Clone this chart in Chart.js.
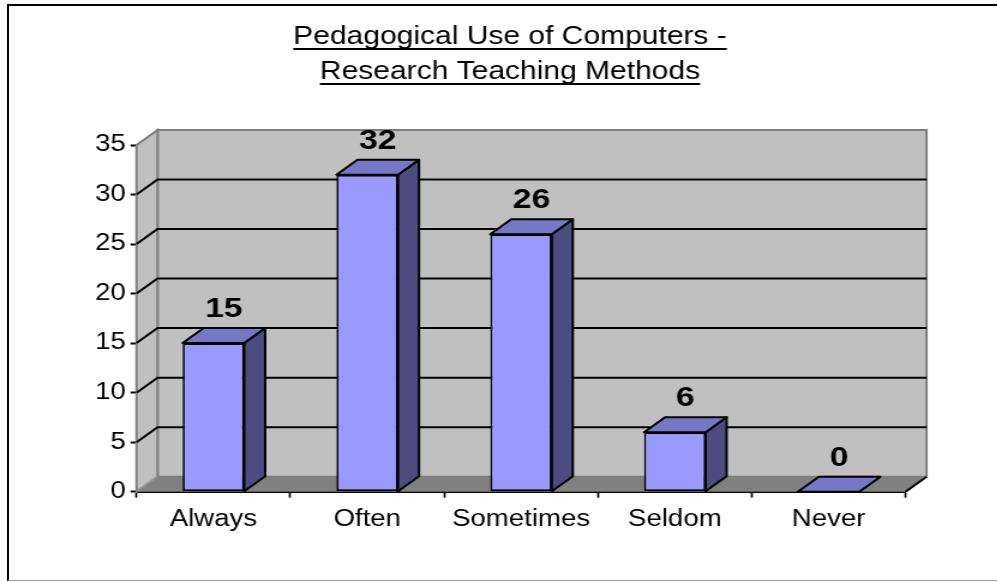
<!DOCTYPE html>
<html>
<head>
<meta charset="utf-8">
<title>Pedagogical Use of Computers - Research Teaching Methods</title>
<script src="https://cdn.jsdelivr.net/npm/chart.js@4.4.1/dist/chart.umd.min.js"></script>
<style>
  html, body { margin: 0; padding: 0; background: #fff; overflow: hidden; }
  #frame {
    position: absolute; left: 7px; top: 4px; width: 1000px; height: 574px;
    border-left: 2px solid #000; border-top: 2px solid #000; border-bottom: 1px solid #999;
  }
  /* the chart is laid out narrow and stretched sideways, like the old spreadsheet export */
  #chartBox {
    position: absolute; left: 0; top: 0; width: 831px; height: 582px;
    transform: scaleX(1.2); transform-origin: 0 0;
  }
</style>
</head>
<body>
<div id="frame"></div>
<div id="chartBox"><canvas id="methodsChart" width="831" height="582"></canvas></div>
<script>
// chart data
const titleLines = ["Pedagogical Use of Computers -", "Research Teaching Methods"];
const categories = ["Always", "Often", "Sometimes", "Seldom", "Never"];
const responses = [15, 32, 26, 6, 0];
const yTickValues = [0, 5, 10, 15, 20, 25, 30, 35];

document.addEventListener("DOMContentLoaded", function () {
  if (typeof Chart === "undefined") {
    console.error("Chart.js is not loaded.");
    return;
  }

  const FONT = '"Liberation Sans", Arial, sans-serif';
  Chart.defaults.font.family = FONT;
  Chart.defaults.color = "#000";

  // depth of the fake 3D box
  const DX = 17.5;
  const DY = -15;
  const TITLE_PAD = { top: 19.5, bottom: 55.5 };
  const TITLE_SIZE = 25;
  const TITLE_LH = 35;

  function poly(ctx, pts) {
    ctx.beginPath();
    ctx.moveTo(pts[0][0], pts[0][1]);
    for (let i = 1; i < pts.length; i++) ctx.lineTo(pts[i][0], pts[i][1]);
    ctx.closePath();
  }

  // the y axis is kept narrow so the title centres where we want it;
  // open its label clip box out to the canvas edge so the numbers show
  const widenYLabels = {
    id: "widenYLabels",
    afterLayout(chart) {
      const y = chart.scales.y;
      if (y) y.left = 0;
    }
  };

  // walls, floor and gridlines behind the bars
  const wallsPlugin = {
    id: "walls3d",
    beforeDatasetsDraw(chart) {
      const { ctx, chartArea: a, scales } = chart;
      const yScale = scales.y;
      ctx.save();
      ctx.lineJoin = "miter";

      // back wall
      ctx.fillStyle = "#c0c0c0";
      ctx.strokeStyle = "#808080";
      ctx.lineWidth = 2;
      ctx.fillRect(a.left + DX, a.top + DY, a.right - a.left, a.bottom - a.top);
      ctx.strokeRect(a.left + DX, a.top + DY, a.right - a.left, a.bottom - a.top);

      // left side wall
      poly(ctx, [[a.left, a.top], [a.left + DX, a.top + DY], [a.left + DX, a.bottom + DY], [a.left, a.bottom]]);
      ctx.fill();
      ctx.stroke();

      // floor
      ctx.fillStyle = "#808080";
      poly(ctx, [[a.left, a.bottom], [a.left + DX, a.bottom + DY], [a.right + DX, a.bottom + DY], [a.right, a.bottom]]);
      ctx.fill();
      ctx.strokeStyle = "#a0a0a0";
      ctx.lineWidth = 1;
      ctx.beginPath();
      ctx.moveTo(a.left, a.bottom);
      ctx.lineTo(a.left + DX, a.bottom + DY);
      ctx.stroke();

      // floor right edge
      ctx.strokeStyle = "#000";
      ctx.lineWidth = 2;
      ctx.beginPath();
      ctx.moveTo(a.right, a.bottom);
      ctx.lineTo(a.right + DX, a.bottom + DY);
      ctx.stroke();

      // gridlines run along the side wall and across the back wall
      yTickValues.forEach(function (v) {
        if (v === yScale.min || v === yScale.max) return;
        const py = yScale.getPixelForValue(v);
        ctx.beginPath();
        ctx.moveTo(a.left, py);
        ctx.lineTo(a.left + DX, py + DY);
        ctx.lineTo(a.right + DX, py + DY);
        ctx.stroke();
      });
      ctx.restore();
    }
  };

  // top and side faces of each bar, plus the value labels
  const barFacesPlugin = {
    id: "barFaces3d",
    afterDatasetsDraw(chart) {
      const ctx = chart.ctx;
      const meta = chart.getDatasetMeta(0);
      ctx.save();
      ctx.strokeStyle = "#000";
      ctx.lineWidth = 2;
      ctx.lineJoin = "round";
      meta.data.forEach(function (bar, i) {
        const p = bar.getProps(["x", "y", "base", "width"], true);
        const l = p.x - p.width / 2;
        const r = p.x + p.width / 2;

        if (p.base - p.y > 0.5) {
          ctx.fillStyle = "#4c4c80";
          poly(ctx, [[r, p.y], [r + DX, p.y + DY], [r + DX, p.base + DY], [r, p.base]]);
          ctx.fill();
          ctx.stroke();
        }

        ctx.fillStyle = "#7777c7";
        poly(ctx, [[l, p.y], [l + DX, p.y + DY], [r + DX, p.y + DY], [r, p.y]]);
        ctx.fill();
        ctx.stroke();

        ctx.fillStyle = "#000";
        ctx.font = "bold 28px " + FONT;
        ctx.textAlign = "center";
        ctx.textBaseline = "alphabetic";
        ctx.fillText(String(responses[i]), p.x + DX / 2, p.y + DY - 11);
      });
      ctx.restore();
    }
  };

  // underline under each title line
  const titleUnderline = {
    id: "titleUnderline",
    afterDraw(chart) {
      const tb = chart.titleBlock;
      if (!tb) return;
      const ctx = chart.ctx;
      const cx = (tb.left + tb.right) / 2;
      ctx.save();
      ctx.font = TITLE_SIZE + "px " + FONT;
      ctx.strokeStyle = "#000";
      ctx.lineWidth = 2;
      titleLines.forEach(function (t, i) {
        const w = ctx.measureText(t).width;
        const y = tb.top + TITLE_PAD.top + TITLE_LH / 2 + i * TITLE_LH + 12;
        ctx.beginPath();
        ctx.moveTo(cx - w / 2, y);
        ctx.lineTo(cx + w / 2, y);
        ctx.stroke();
      });
      ctx.restore();
    }
  };

  const canvas = document.getElementById("methodsChart");

  const config = {
    type: "bar",
    data: {
      labels: categories,
      datasets: [{
        data: responses,
        backgroundColor: "#9999ff",
        borderColor: "#000",
        borderWidth: { top: 2, bottom: 2, left: 1.7, right: 1.7 },
        borderSkipped: false,
        barPercentage: 0.4,
        categoryPercentage: 1.0
      }]
    },
    options: {
      responsive: false,
      animation: false,
      devicePixelRatio: 1,
      layout: { padding: { left: 95.4, right: 76.4, top: 0, bottom: 0 } },
      plugins: {
        legend: { display: false },
        tooltip: { enabled: false },
        title: {
          display: true,
          text: titleLines,
          color: "#000",
          font: { family: FONT, size: TITLE_SIZE, weight: "normal", lineHeight: TITLE_LH / TITLE_SIZE },
          padding: TITLE_PAD
        }
      },
      scales: {
        x: {
          z: 1,
          offset: true,
          grid: {
            offset: true,
            drawOnChartArea: false,
            tickLength: 6,
            tickColor: "#000",
            tickWidth: 1.7,
            color: "#000"
          },
          border: { display: true, color: "#000", width: 2 },
          ticks: { color: "#000", font: { size: 23 }, padding: 8, maxRotation: 0, autoSkip: false },
          afterFit: function (scale) { scale.height = 90.3; }
        },
        y: {
          z: 1,
          min: 0,
          max: 35,
          grid: {
            drawOnChartArea: false,
            tickLength: 5,
            tickColor: "#000",
            tickWidth: 2,
            color: "#000"
          },
          border: { display: true, color: "#000", width: 1.7 },
          ticks: { color: "#000", font: { size: 23 }, padding: 4 },
          afterBuildTicks: function (scale) {
            scale.ticks = yTickValues.map(function (v) { return { value: v }; });
          },
          afterFit: function (scale) { scale.width = 18.35; }
        }
      }
    },
    plugins: [widenYLabels, wallsPlugin, barFacesPlugin, titleUnderline]
  };

  try {
    new Chart(canvas, config);
  } catch (err) {
    console.error("Error creating Chart:", err);
  }
});
</script>
</body>
</html>
